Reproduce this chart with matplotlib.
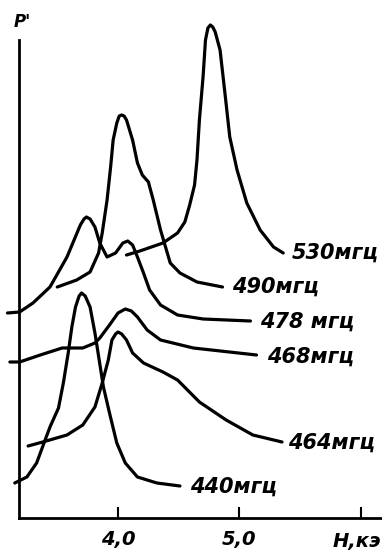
import matplotlib
matplotlib.use('Agg')
import matplotlib.pyplot as plt

matplotlib.rcParams['font.family'] = ['Liberation Sans Narrow', 'DejaVu Sans']

# H (kOe) and P' (arb. units)
h_440 = [3.15, 3.25, 3.33, 3.40, 3.44, 3.51, 3.55, 3.59, 3.62, 3.65, 3.68, 3.70, 3.73, 3.77, 3.81, 3.88, 3.93, 3.99, 4.06, 4.16, 4.32, 4.51]
p_440 = [3.5, 4.1, 5.5, 7.8, 9.1, 11.0, 13.5, 16.5, 19.1, 21.1, 22.2, 22.5, 22.2, 21.1, 18.5, 13.1, 10.5, 7.5, 5.5, 4.1, 3.5, 3.2]

h_464 = [3.26, 3.38, 3.58, 3.71, 3.81, 3.87, 3.92, 3.95, 3.98, 4.00, 4.03, 4.07, 4.12, 4.21, 4.37, 4.49, 4.67, 4.89, 5.11, 5.35]
p_464 = [7.2, 7.6, 8.3, 9.3, 11.1, 13.5, 15.8, 17.8, 18.4, 18.6, 18.4, 17.8, 16.5, 15.5, 14.6, 13.8, 11.6, 9.8, 8.3, 7.6]

h_468 = [3.11, 3.19, 3.36, 3.54, 3.71, 3.81, 3.85, 3.93, 4.00, 4.06, 4.11, 4.16, 4.24, 4.35, 4.62, 5.14]
p_468 = [15.6, 15.6, 16.3, 17.0, 17.0, 17.5, 18.0, 19.3, 20.5, 20.9, 20.7, 20.1, 18.8, 17.8, 17.0, 16.3]

h_478 = [3.09, 3.19, 3.30, 3.44, 3.58, 3.69, 3.72, 3.74, 3.77, 3.81, 3.85, 3.91, 3.98, 4.04, 4.08, 4.12, 4.16, 4.21, 4.26, 4.35, 4.49, 4.70, 5.09]
p_478 = [20.5, 20.6, 21.5, 23.1, 26.1, 29.3, 29.9, 30.1, 29.9, 29.1, 27.5, 26.1, 26.5, 27.5, 27.7, 27.3, 26.1, 24.5, 22.8, 21.3, 20.3, 19.9, 19.7]

h_490 = [3.50, 3.66, 3.77, 3.84, 3.87, 3.91, 3.94, 3.96, 3.99, 4.01, 4.03, 4.05, 4.07, 4.12, 4.16, 4.20, 4.25, 4.29, 4.35, 4.43, 4.51, 4.65, 4.86]
p_490 = [23.1, 23.8, 24.6, 26.5, 28.5, 31.8, 35.2, 37.8, 39.5, 40.2, 40.3, 40.2, 39.8, 37.8, 35.5, 34.3, 33.6, 31.8, 28.8, 25.5, 24.5, 23.6, 23.1]

h_530 = [4.07, 4.18, 4.37, 4.49, 4.55, 4.59, 4.63, 4.65, 4.67, 4.70, 4.72, 4.74, 4.76, 4.78, 4.80, 4.84, 4.88, 4.92, 4.98, 5.06, 5.17, 5.28, 5.36]
p_530 = [26.3, 26.7, 27.5, 28.5, 29.6, 31.3, 33.3, 35.8, 39.8, 44.1, 47.8, 49.0, 49.3, 49.1, 48.6, 46.8, 42.5, 38.1, 34.8, 31.5, 28.8, 27.1, 26.5]

labels = ['440мгц', '464мгц', '468мгц', '478 мгц', '490мгц', '530мгц']
curves = [(h_440, p_440), (h_464, p_464), (h_468, p_468),
          (h_478, p_478), (h_490, p_490), (h_530, p_530)]
label_xy = [(4.59, 3.1), (5.40, 7.5), (5.23, 16.1), (5.17, 19.6), (4.94, 23.1), (5.43, 26.5)]

fig = plt.figure(figsize=(3.82, 5.55), dpi=100)
ax = fig.add_axes([19/382, 37/555, 363/382, 518/555])

for (h, p), lab, (lx, ly) in zip(curves, labels, label_xy):
    ax.plot(h, p, color='black', linewidth=2.3, solid_joinstyle='round',
            solid_capstyle='round', clip_on=False)
    ax.text(lx, ly, lab, fontsize=15, fontweight='bold', fontstyle='italic',
            ha='left', va='center')

ax.set_xlim(3.185, 6.173)
ax.set_ylim(0, 51.8)
ax.spines['top'].set_visible(False)
ax.spines['right'].set_visible(False)
ax.spines['left'].set_bounds(0, 47.8)
ax.spines['left'].set_linewidth(2)
ax.spines['bottom'].set_linewidth(2)

ax.set_yticks([])
ax.set_xticks([4.0, 5.0, 6.0])
ax.set_xticklabels(['4,0', '5,0', ''], fontsize=14, fontweight='bold',
                   fontstyle='italic')
ax.tick_params(axis='x', direction='in', length=8, width=1.5, pad=9)

# axis name sits under the last tick, flush with the right edge
ax.text(6.165, -2.3, 'H,кэ', fontsize=14, fontweight='bold', fontstyle='italic',
        ha='right', va='center', clip_on=False)

ax.text(3.21, 49.6, "P'", fontsize=12, fontweight='bold', fontstyle='italic',
        ha='center', va='center')

fig.savefig('out.png', dpi=100)
